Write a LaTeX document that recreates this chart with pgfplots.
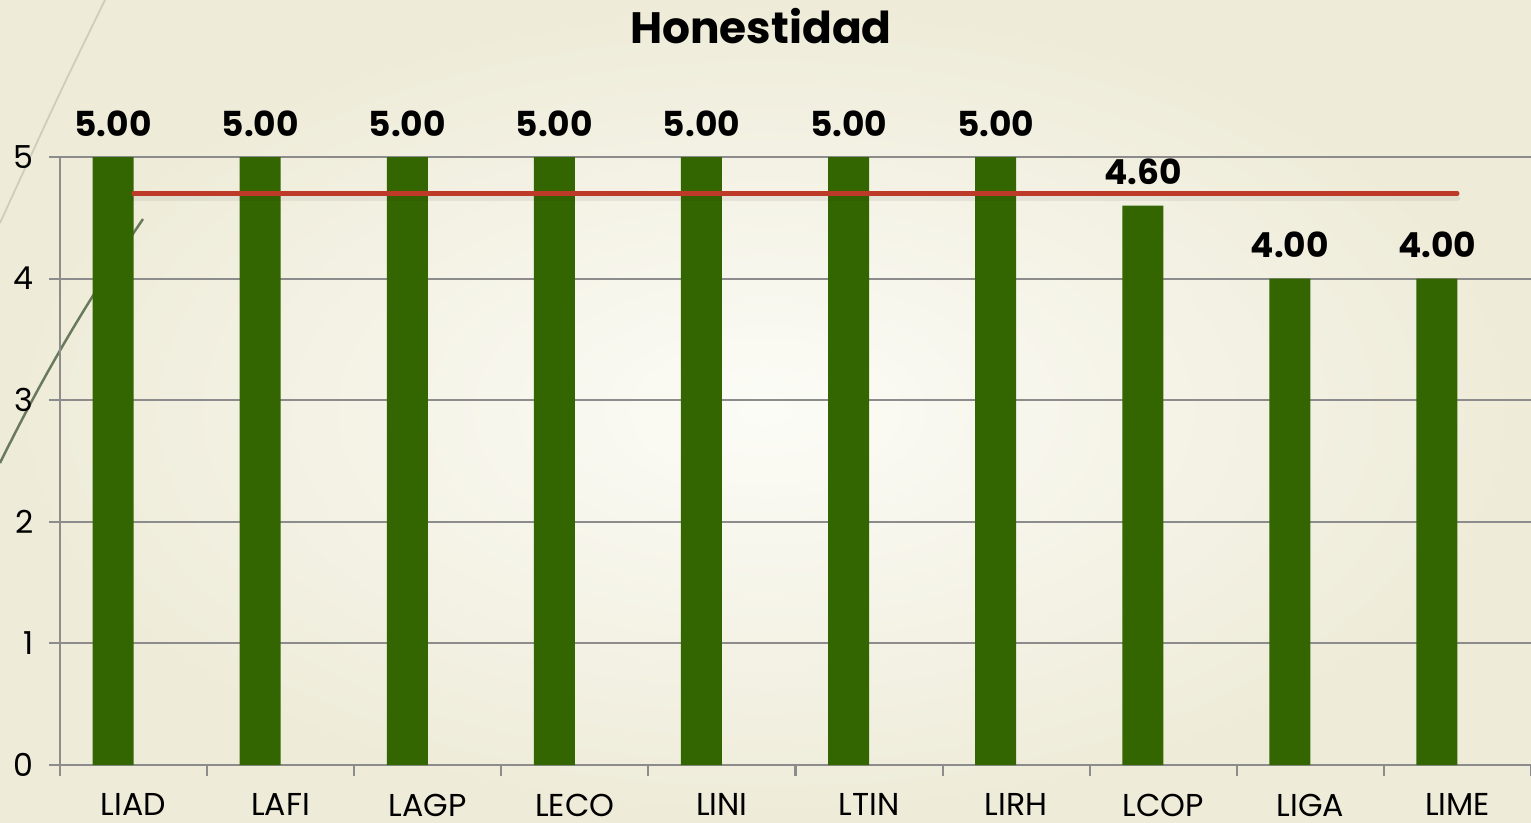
\documentclass[border=0pt]{standalone}
\usepackage{pgfplots}
\pgfplotsset{compat=1.18}
\usepackage{fontspec}
\setmainfont{Poppins}
\definecolor{bargreen}{RGB}{51,102,0}
\definecolor{avgred}{RGB}{190,58,40}
\definecolor{gridgray}{RGB}{140,140,140}
\definecolor{bgcenter}{RGB}{252,252,247}
\definecolor{bgedge}{RGB}{238,235,216}
\definecolor{decolight}{RGB}{205,205,190}
\definecolor{decodark}{RGB}{105,122,92}
\begin{document}
\begin{tikzpicture}[x=1cm,y=1cm]
\shade[inner color=bgcenter, outer color=bgedge] (0,0) rectangle (15.31,8.22);
\draw[decolight, line width=0.5pt] (1.05,8.22) .. controls (0.6,7.3) .. (0,5.99);
\draw[decodark, line width=0.7pt] (0,3.59) .. controls (0.4,4.4) and (0.8,5.1) .. (1.43,6.03);
\begin{axis}[
  at={(0.60cm,0.57cm)}, anchor=south west,
  scale only axis, width=14.71cm, height=6.08cm,
  xmin=0.5, xmax=10.5, ymin=0, ymax=5,
  clip=false,
  axis lines=left,
  axis line style={-, gridgray, line width=0.6pt},
  ytick={0,1,2,3,4,5},
  ymajorgrids,
  major grid style={gridgray, line width=0.6pt},
  xtick={0.5,1.5,...,10.5},
  xticklabels={,,,,,,,,,,,},
  extra x ticks={1,2,3,4,5,6,7,8,9,10},
  extra x tick labels={LIAD,LAFI,LAGP,LECO,LINI,LTIN,LIRH,LCOP,LIGA,LIME},
  extra x tick style={major tick length=0pt, grid=none},
  tick align=outside,
  major tick length=0.11cm,
  tick style={gridgray, line width=0.6pt},
  /pgf/number format/assume math mode=true,
  xticklabel style={font=\fontsize{9}{10}\selectfont, anchor=north, inner sep=0pt, yshift=-0.28cm},
  yticklabel style={font=\fontsize{9}{10}\selectfont, anchor=east, inner sep=0pt, xshift=-0.15cm},
]
\addplot[ybar, bar width=0.41cm, bar shift=-0.205cm, fill=bargreen, draw=none,
  nodes near coords={\pgfmathprintnumber[fixed,fixed zerofill,precision=2]{\pgfplotspointmeta}},
  nodes near coords style={font=\bfseries\fontsize{9.8}{12}\selectfont, anchor=south, inner sep=0pt, yshift=0.2cm, xshift=-0.205cm, text=black}]
  coordinates {(1,5) (2,5) (3,5) (4,5) (5,5) (6,5) (7,5) (8,4.6) (9,4) (10,4)};
\addplot[black, opacity=0.06, line width=1.6pt, no marks, line cap=round, yshift=-0.05cm]
  coordinates {(1,4.7) (10,4.7)};
\addplot[avgred, line width=1.15pt, no marks, line cap=round]
  coordinates {(1,4.7) (10,4.7)};
\end{axis}
\node[font=\bfseries\fontsize{12.5}{14}\selectfont, anchor=base] at (7.61,7.79) {Honestidad};
\pgfresetboundingbox
\useasboundingbox (0,0) rectangle (15.31,8.22);
\end{tikzpicture}
\end{document}
